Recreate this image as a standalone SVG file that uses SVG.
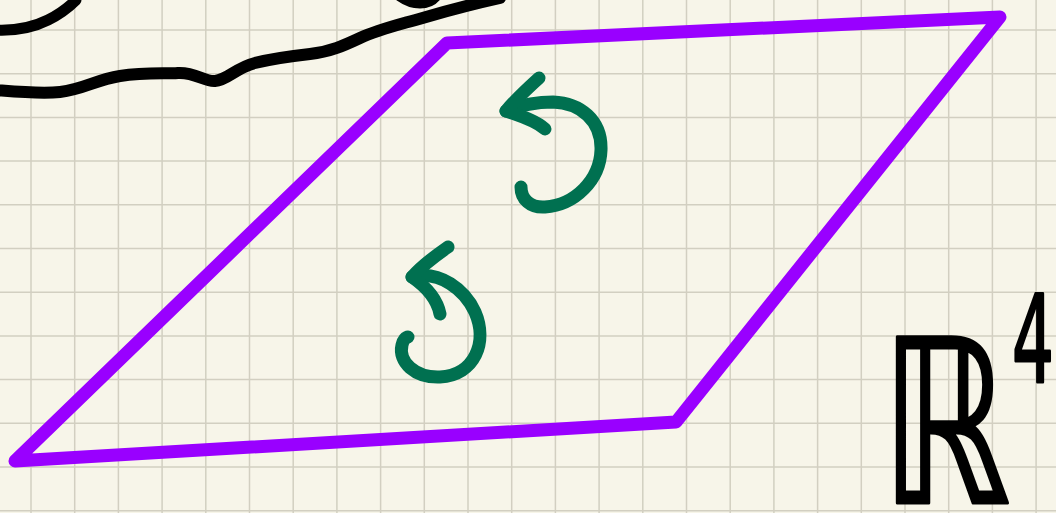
<svg xmlns="http://www.w3.org/2000/svg" width="1056" height="513" viewBox="0 0 1056 513">
<style>
.ink{fill:none;stroke-linecap:round;stroke-linejoin:round}
.blk{stroke:#000;stroke-width:11}
.pur{stroke:#9900ff;stroke-width:13}
.grn{stroke:#007050;stroke-width:13}
.grid{fill:none;stroke:#d2cfc1;stroke-width:1.5}
.lbl{font-family:"DejaVu Sans",sans-serif;fill:#000;stroke:#000;stroke-width:3;stroke-linejoin:round}
</style>
<rect width="1056" height="513" fill="#f7f5e9"/>
<path class="grid" d="M31,0V513M74.7,0V513M118.4,0V513M162.1,0V513M205.8,0V513M249.5,0V513M293.2,0V513M336.9,0V513M380.6,0V513M424.3,0V513M468,0V513M511.7,0V513M555.4,0V513M599.1,0V513M642.8,0V513M686.5,0V513M730.2,0V513M773.9,0V513M817.6,0V513M861.3,0V513M905,0V513M948.7,0V513M992.4,0V513M1036.1,0V513M0,30H1056M0,73.7H1056M0,117.4H1056M0,161.1H1056M0,204.8H1056M0,248.5H1056M0,292.2H1056M0,335.9H1056M0,379.6H1056M0,423.3H1056M0,467H1056M0,510.7H1056"/>
<g id="scribbles">
<path class="ink blk" d="M-5,30 C15,31 32,28 48,20 C60,14 68,8 76,0"/>
<path class="ink blk" d="M400,-4 C407,1 413,3 420,3 C427,3 432,1 436,-4"/>
<path class="ink blk" style="stroke-width:12" d="M-5,90 C20,92 40,94 60,92 C85,89 95,80 120,76 C145,72 165,74 178,73 C195,72 205,82 215,81 C228,80 235,68 255,63 C275,58 292,56 310,54 C330,52 345,45 360,38 C375,31 390,27 408,22 C430,16 455,8 500,-2"/>
</g>
<g id="plane">
<polygon class="ink pur" points="447,43 1000,17 676,422 15,461"/>
</g>
<g id="connectors">
<g id="arrow-upper">
<path class="ink grn" d="M521,187 C521,199 530,208 545,207 C575,205 600,180 601,150 C602,120 580,103 553,102 C535,102 518,106 506,111"/>
<path class="ink grn" d="M539,78 C528,88 515,100 506,111 C520,116 535,120 545,129"/>
</g>
<g id="arrow-lower">
<path class="ink grn" d="M412,277 C440,270 465,290 475,312 C488,342 475,375 440,377 C415,378 398,362 402,345 C403,340 406,337 408,337"/>
<path class="ink grn" d="M448,247 C435,256 420,268 412,277 C425,286 437,298 440,314"/>
</g>
</g>
<g id="label">
<text class="lbl" transform="translate(881,503) scale(0.72,1)" font-size="228">ℝ</text>
<text class="lbl" transform="translate(1012,382) scale(0.54,1)" font-size="122">4</text>
</g>
</svg>
